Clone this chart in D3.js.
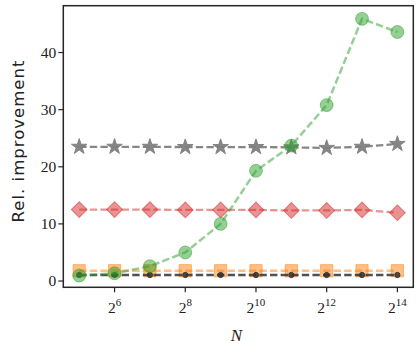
<!DOCTYPE html>
<html><head><meta charset="utf-8">
<script src="https://cdn.jsdelivr.net/npm/d3@7"></script>
<style>body{margin:0;background:#fff}</style>
</head><body>
<svg id="c" width="420" height="350"></svg>
<script>
const exponents = [5,6,7,8,9,10,11,12,13,14];
const greenCircles = [0.95,1.35,2.6,5.0,10.0,19.3,23.7,30.8,45.9,43.6];
const grayStars   = [23.5,23.5,23.5,23.45,23.45,23.45,23.4,23.3,23.5,24.0];
const redDiamonds = [12.5,12.5,12.5,12.45,12.45,12.45,12.35,12.35,12.45,11.95];
const orangeSquares=[1.8,1.8,1.8,1.8,1.8,1.8,1.8,1.8,1.8,1.8];
const blackDots   = [1.05,1.05,1.05,1.05,1.05,1.05,1.05,1.05,1.05,1.05];
const xTicks = [6,8,10,12,14];
const yTicks = [0,10,20,30,40];

const svg = d3.select('#c');
const L=63.3,R=413.3,T=5.7,B=287.3;
const x = d3.scaleLinear().domain([4.55,14.45]).range([L,R]);
const y = d3.scaleLinear().domain([-1.1,48.2]).range([B,T]);

function series(vals, color, alpha, marker, size, lineAlpha, lw, rot){
  const g = svg.append('g');
  const line = d3.line().x((d,i)=>x(exponents[i])).y(d=>y(d));
  g.append('path').attr('d', line(vals)).attr('fill','none')
    .attr('stroke',color).attr('stroke-opacity',lineAlpha).attr('stroke-width',lw)
    .attr('stroke-dasharray','7.4,3.2');
  g.selectAll('path.m').data(vals).join('path').attr('class','m')
    .attr('d', d3.symbol().type(marker).size(size))
    .attr('transform',(d,i)=>`translate(${x(exponents[i])},${y(d)})` + (rot?' rotate(45)':''))
    .attr('fill',color).attr('fill-opacity',alpha)
    .attr('stroke',color).attr('stroke-opacity',alpha).attr('stroke-width',1);
  return g;
}
series(orangeSquares,'#ff7f0e',0.5,d3.symbolSquare,150,0.5,2.3,false);
series(blackDots,'#333333',0.85,d3.symbolCircle,22,0.85,2.6,false);
series(redDiamonds,'#d62728',0.5,d3.symbolSquare,125,0.5,2.3,true);
series(grayStars,'#7f7f7f',0.95,d3.symbolStar,75,0.95,2.3,false);
series(greenCircles,'#2ca02c',0.5,d3.symbolCircle,130,0.5,2.5,false);

// frame
svg.append('rect').attr('x',L).attr('y',T).attr('width',R-L).attr('height',B-T)
  .attr('fill','none').attr('stroke','#262626').attr('stroke-width',1.5);

// y axis
const ya = svg.append('g');
yTicks.forEach(t=>{
  ya.append('line').attr('x1',L-5).attr('x2',L).attr('y1',y(t)).attr('y2',y(t))
    .attr('stroke','#262626').attr('stroke-width',1.2);
  ya.append('text').attr('x',L-7).attr('y',y(t)+5).attr('text-anchor','end')
    .attr('font-family','Liberation Serif, serif').attr('font-size',15.5).attr('fill','#222').text(t);
});
// x axis
const xa = svg.append('g');
xTicks.forEach(t=>{
  xa.append('line').attr('x1',x(t)).attr('x2',x(t)).attr('y1',B).attr('y2',B+5)
    .attr('stroke','#262626').attr('stroke-width',1.2);
  const tx = xa.append('text').attr('x',x(t)).attr('y',B+26).attr('text-anchor','middle')
    .attr('font-family','Liberation Serif, serif').attr('font-size',15.5).attr('fill','#222');
  tx.append('tspan').text('2');
  tx.append('tspan').attr('dy',-7).attr('font-size',11).text(t);
});
svg.append('text').attr('x',(L+R)/2-2).attr('y',341).attr('text-anchor','middle')
  .attr('font-family','Liberation Serif, serif').attr('font-style','italic')
  .attr('font-size',17).attr('fill','#222').text('N');
svg.append('text').attr('transform',`translate(24,141.5) rotate(-90)`)
  .attr('text-anchor','middle').attr('font-family','DejaVu Sans, sans-serif')
  .attr('font-size',16.5).attr('textLength',162).attr('lengthAdjust','spacing')
  .attr('fill','#222').text('Rel. improvement');
</script>
</body></html>
